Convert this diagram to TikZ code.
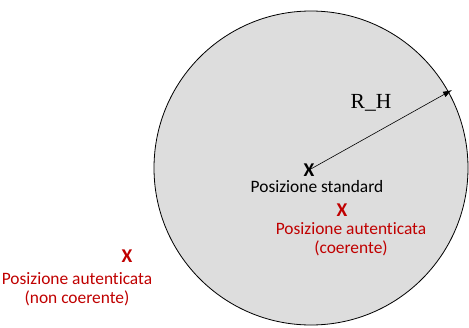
\documentclass[tikz,border=0pt]{standalone}
\usepackage{fontspec}
\usetikzlibrary{arrows.meta}
\setmainfont{Carlito}[Ligatures=NoCommon]
\newfontfamily\serifR{Liberation Serif}
\definecolor{disk}{HTML}{DDDDDD}
\definecolor{redx}{HTML}{C00000}
\begin{document}
\begin{tikzpicture}[x=1pt,y=-1pt,
  lbl/.style={inner sep=0pt,font=\fontsize{17.4}{19.5}\selectfont,align=center},
  xmark/.style={inner sep=0pt,font=\fontsize{19.5}{19.5}\selectfont\bfseries}]
\useasboundingbox (0,0) rectangle (469,327);
\clip (0,0) rectangle (469,327);
\fill[white] (0,0) rectangle (469,327);
\node[circle,draw=black,line width=0.8pt,fill=disk,minimum size=314pt,inner sep=0pt] (disk) at (311,168) {};
\coordinate (tip) at (452,90);
\node[xmark] (std) at (309,170) {X};
\draw[-{Latex[length=9pt,width=6pt]},line width=0.6pt] (std.center) -- (tip);
\node[inner sep=0pt,font=\serifR\fontsize{21.5}{21.5}\selectfont] (rh) at (371,103) {R\_H};
\node[lbl] (stdl) at (317,187) {Posizione standard};
\node[xmark,text=redx] (xc) at (342,210) {X};
\node[lbl,text=redx] (cl) at (351,239) {Posizione autenticata\\(coerente)};
\node[xmark,text=redx] (xn) at (127,256) {X};
\node[lbl,text=redx] (nl) at (77,289) {Posizione autenticata\\(non coerente)};
\end{tikzpicture}
\end{document}
